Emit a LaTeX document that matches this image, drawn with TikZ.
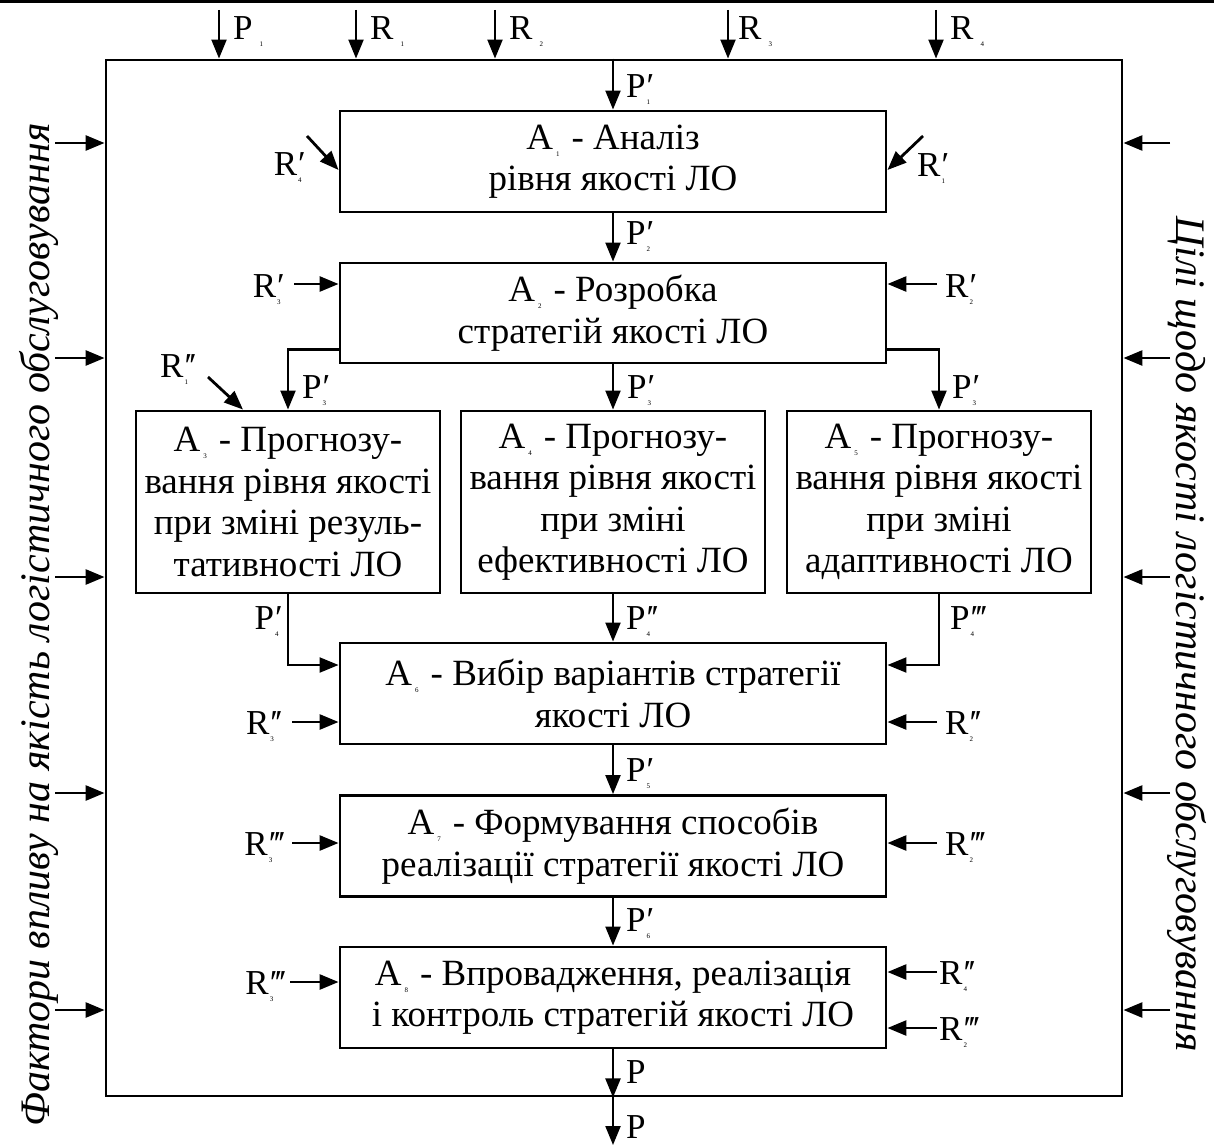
\documentclass[tikz,border=0pt]{standalone}
\usepackage{fontspec}
\setmainfont{Liberation Serif}
\usetikzlibrary{arrows.meta,calc}

% tiny lowered index used for A, P and R
\newcommand\tinyidx[1]{\raisebox{-7pt}{\fontsize{7}{7}\selectfont #1}}
% letter with primes and an index under the primes
\newcommand\lbl[3]{#1\kern1pt\rlap{\tinyidx{#3}}#2}
% letter with an index and no primes
\newcommand\lbln[2]{#1\kern7pt\tinyidx{#2}}
% primes
\newcommand\pa{′}
\newcommand\pb{′\kern-3pt′}
\newcommand\pc{′\kern-3pt′\kern-3pt′}
% block title prefix
\newcommand\ttl[1]{A\kern3pt\tinyidx{#1}\hspace{12pt}-\ }
\newcommand\boxfont{\fontsize{37}{41.5}\selectfont}
\newcommand\labfont{\fontsize{35}{35}\selectfont}
\newcommand\sidefont{\itshape\fontsize{42}{42}\selectfont}

\begin{document}
\begin{tikzpicture}[x=1pt,y=-1pt,
  box/.style={draw, line width=2.9pt, minimum width=546pt, minimum height=101pt,
    inner sep=0pt, align=center, font=\boxfont},
  sidebox/.style={box, minimum width=304pt, minimum height=182pt},
  frame/.style={draw, line width=2.9pt, minimum width=1016pt, minimum height=1036pt, inner sep=0pt},
  tip/.style={-{Triangle[length=19pt,width=15pt]}},
  flow/.style={tip, line width=2.2pt},
  feed/.style={tip, line width=2.8pt},
  lab/.style={anchor=base west, inner sep=0pt, font=\labfont},
  labl/.style={lab, anchor=base east},
  side/.style={font=\sidefont, inner sep=0pt},
]
\useasboundingbox (0,0) rectangle (1214,1145);

% header rule
\draw[line width=3pt] (0,1.5) -- (1214,1.5);

% system boundary
\node[frame] (sys) at (614,578) {};

% blocks
\node[box] (A1) at (613,161.5) {\ttl{1}Аналіз\\рівня якості ЛО};
\node[box, minimum height=100pt] (A2) at (613,313) {\ttl{2}Розробка\\стратегій якості ЛО};
\node[sidebox] (A3) at (288,502) {\ttl{3}Прогнозу-\\вання рівня якості\\при зміні резуль-\\тативності ЛО};
\node[sidebox] (A4) at (613,502) {\ttl{4}Прогнозу-\\вання рівня якості\\при зміні\\ефективності ЛО};
\node[sidebox] (A5) at (939,502) {\ttl{5}Прогнозу-\\вання рівня якості\\при зміні\\адаптивності ЛО};
\node[box] (A6) at (613,693.5) {\ttl{6}Вибір варіантів стратегії\\якості ЛО};
\node[box] (A7) at (613,846) {\ttl{7}Формування способів\\реалізації стратегії якості ЛО};
\node[box] (A8) at (613,997.5) {\ttl{8}Впровадження, реалізація\\і контроль стратегій якості ЛО};

% external inputs on top
\coordinate (inP1) at (219,10);
\coordinate (inR1) at (356,10);
\coordinate (inR2) at (495,10);
\coordinate (inR3) at (728,10);
\coordinate (inR4) at (936,10);
\foreach \c in {inP1,inR1,inR2,inR3,inR4}
  \draw[flow] (\c) -- (\c |- sys.north);
\node[lab] (lP1) at (233,40) {\lbln{P}{1}};
\node[lab] (lR1) at (370,40) {\lbln{R}{1}};
\node[lab] (lR2) at (509,40) {\lbln{R}{2}};
\node[lab] (lR3) at (738,40) {\lbln{R}{3}};
\node[lab] (lR4) at (950,40) {\lbln{R}{4}};

% influencing factors and goals
\foreach \i/\y in {1/143,2/358,3/577,4/793,5/1010}{
  \coordinate (fl\i) at (55,\y);
  \coordinate (gr\i) at (1170,\y);
  \draw[feed] (fl\i) -- (fl\i -| sys.west);
  \draw[feed] (gr\i) -- (gr\i -| sys.east);
}
\node[side, rotate=90] (factors) at (39,625) {Фактори впливу на якість логістичного обслуговування};
\node[side, rotate=-90] (goals) at (1187,634) {Цілі щодо якості логістичного обслуговування};

% A1
\draw[flow] (A1.north |- sys.north) -- (A1.north);
\node[lab] (lP1a) at (626,98) {\lbl{P}{\pa}{1}};
\coordinate (fR4a) at (307,136);
\coordinate (fR1a) at (923,136);
\draw[feed] (fR4a) -- ($(A1.west)+(0,8.5)$);
\draw[feed] (fR1a) -- ($(A1.east)+(0,8.5)$);
\node[labl] (lR4a) at (306,175) {\lbl{R}{\pa}{4}};
\node[lab] (lR1a) at (917,176) {\lbl{R}{\pa}{1}};

% A1 -> A2
\draw[flow] (A1.south) -- (A2.north);
\node[lab] (lP2a) at (626,244) {\lbl{P}{\pa}{2}};
\coordinate (fR3a) at (294,284);
\coordinate (fR2a) at (937,284);
\draw[feed] (fR3a) -- (fR3a -| A2.west);
\draw[feed] (fR2a) -- (fR2a -| A2.east);
\node[labl] (lR3a) at (285,297) {\lbl{R}{\pa}{3}};
\node[lab] (lR2a) at (945,297) {\lbl{R}{\pa}{2}};

% A2 -> A3, A4, A5
\draw[flow] ($(A2.south west)+(0,-15)$) -| (A3.north);
\draw[flow] (A2.south) -- (A4.north);
\draw[flow] ($(A2.south east)+(0,-15)$) -| (A5.north);
\node[lab] (lP3a) at (302,398) {\lbl{P}{\pa}{3}};
\node[lab] (lP3b) at (627,398) {\lbl{P}{\pa}{3}};
\node[lab] (lP3c) at (952,398) {\lbl{P}{\pa}{3}};
\coordinate (fR1b) at (208,377);
\draw[feed] (fR1b) -- ($(A3.north)+(-45,0)$);
\node[lab] (lR1b) at (160,377) {\lbl{R}{\pb}{1}};

% A3, A4, A5 -> A6
\draw[flow] (A3.south) |- ($(A6.west)+(0,-28.5)$);
\draw[flow] (A4.south) -- (A6.north);
\draw[flow] (A5.south) |- ($(A6.east)+(0,-28.5)$);
\node[labl] (lP4a) at (283,629) {\lbl{P}{\pa}{4}};
\node[lab] (lP4b) at (626,629) {\lbl{P}{\pb}{4}};
\node[lab] (lP4c) at (950,629) {\lbl{P}{\pc}{4}};
\coordinate (fR3b) at (292,722);
\coordinate (fR2b) at (937,722);
\draw[feed] (fR3b) -- (fR3b -| A6.west);
\draw[feed] (fR2b) -- (fR2b -| A6.east);
\node[labl] (lR3b) at (283,734) {\lbl{R}{\pb}{3}};
\node[lab] (lR2b) at (945,734) {\lbl{R}{\pb}{2}};

% A6 -> A7
\draw[flow] (A6.south) -- (A7.north);
\node[lab] (lP5a) at (626,781) {\lbl{P}{\pa}{5}};
\coordinate (fR3c) at (292,843);
\coordinate (fR2c) at (937,843);
\draw[feed] (fR3c) -- (fR3c -| A7.west);
\draw[feed] (fR2c) -- (fR2c -| A7.east);
\node[labl] (lR3c) at (286,855) {\lbl{R}{\pc}{3}};
\node[lab] (lR2c) at (945,855) {\lbl{R}{\pc}{2}};

% A7 -> A8
\draw[flow] (A7.south) -- (A8.north);
\node[lab] (lP6a) at (626,931) {\lbl{P}{\pa}{6}};
\coordinate (fR3d) at (290,982);
\coordinate (fR4d) at (937,972);
\coordinate (fR2d) at (937,1028);
\draw[feed] (fR3d) -- (fR3d -| A8.west);
\draw[feed] (fR4d) -- (fR4d -| A8.east);
\draw[feed] (fR2d) -- (fR2d -| A8.east);
\node[labl] (lR3d) at (287,994) {\lbl{R}{\pc}{3}};
\node[lab] (lR4d) at (939,984) {\lbl{R}{\pb}{4}};
\node[lab] (lR2d) at (939,1040) {\lbl{R}{\pc}{2}};

% outputs
\coordinate (outP) at (613,1145);
\draw[flow] (A8.south) -- (A8.south |- sys.south);
\draw[flow] (A8.south |- sys.south) -- (outP);
\node[lab] (lPa) at (626,1083) {P};
\node[lab] (lPb) at (626,1138) {P};
\end{tikzpicture}
\end{document}
